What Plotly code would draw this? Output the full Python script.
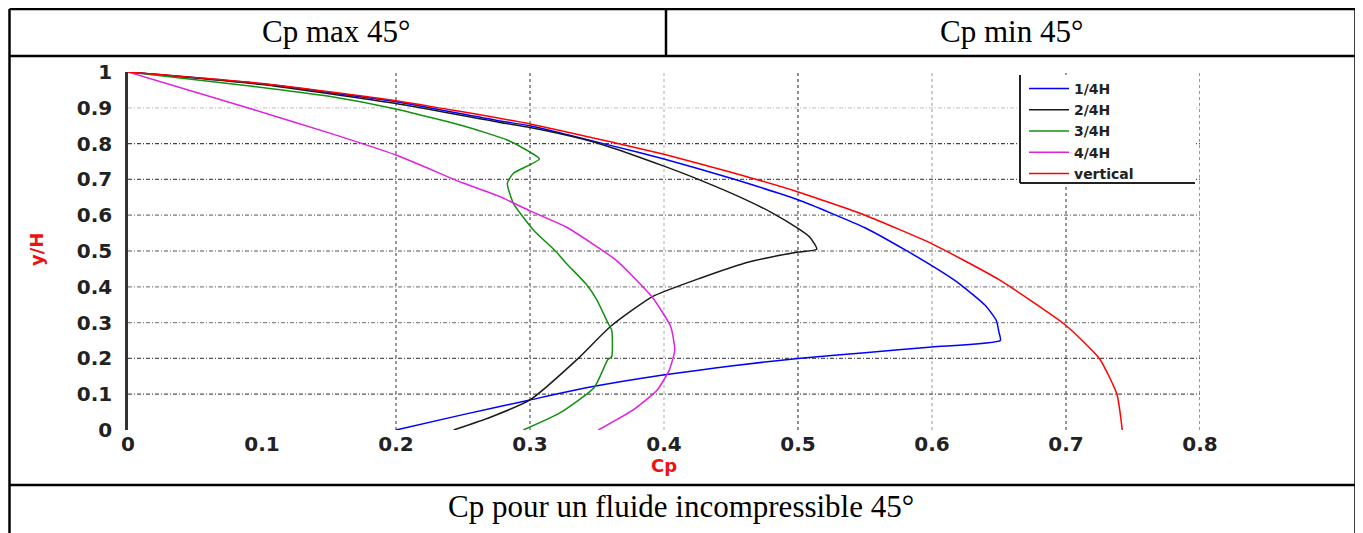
import plotly.graph_objects as go

# ---------------- data ----------------
series_names = ["1/4H", "2/4H", "3/4H", "4/4H", "vertical"]
series_colors = ["#0000ff", "#1a1a1a", "#119011", "#e020e0", "#ff0000"]

cp_q1 = [0, 0.1, 0.2, 0.2776, 0.3, 0.36, 0.4, 0.45, 0.5, 0.55, 0.58, 0.605, 0.621, 0.64, 0.648, 0.65, 0.651,
         0.6, 0.55, 0.5, 0.45, 0.426, 0.398, 0.345, 0.3, 0.25, 0.2]
y_q1 = [1, 0.967, 0.917, 0.863, 0.85, 0.795, 0.757, 0.703, 0.643, 0.565, 0.503, 0.447, 0.407, 0.347, 0.306, 0.273, 0.25,
        0.232, 0.216, 0.2, 0.179, 0.167, 0.153, 0.12, 0.084, 0.043, 0]

cp_q2 = [0, 0.1, 0.2, 0.2776, 0.3, 0.34, 0.36, 0.4, 0.427, 0.46, 0.48, 0.5, 0.509, 0.514,
         0.5, 0.464, 0.427, 0.391, 0.36, 0.336, 0.3, 0.27, 0.243]
y_q2 = [1, 0.965, 0.912, 0.859, 0.845, 0.812, 0.79, 0.737, 0.698, 0.645, 0.608, 0.563, 0.538, 0.505,
        0.497, 0.47, 0.424, 0.372, 0.289, 0.2, 0.084, 0.035, 0]

cp_q3 = [0, 0.091, 0.15, 0.198, 0.25, 0.283, 0.295, 0.307, 0.2876, 0.2831, 0.2876, 0.3025, 0.319, 0.327,
         0.342, 0.35, 0.358, 0.361, 0.361, 0.358, 0.348, 0.322, 0.295]
y_q3 = [1, 0.961, 0.932, 0.898, 0.85, 0.81, 0.787, 0.757, 0.717, 0.689, 0.633, 0.559, 0.5, 0.466,
        0.407, 0.363, 0.3, 0.279, 0.205, 0.196, 0.119, 0.047, 0]

cp_q4 = [0, 0.091, 0.15, 0.2, 0.25, 0.2776, 0.3, 0.327, 0.364, 0.391, 0.405, 0.408, 0.404, 0.395, 0.377, 0.351]
y_q4 = [1, 0.898, 0.83, 0.768, 0.69, 0.652, 0.612, 0.567, 0.475, 0.372, 0.289, 0.223, 0.168, 0.112, 0.056, 0]

cp_vert = [0, 0.1, 0.2, 0.3, 0.36, 0.4, 0.45, 0.5, 0.55, 0.6, 0.65, 0.7, 0.725, 0.738, 0.742]
y_vert = [1, 0.968, 0.92, 0.855, 0.805, 0.77, 0.72, 0.665, 0.6, 0.52, 0.42, 0.292, 0.199, 0.1, 0]

x_ticks = [0, 0.1, 0.2, 0.3, 0.4, 0.5, 0.6, 0.7, 0.8]
x_tick_labels = ["0", "0.1", "0.2", "0.3", "0.4", "0.5", "0.6", "0.7", "0.8"]
y_ticks = [0, 0.1, 0.2, 0.3, 0.4, 0.5, 0.6, 0.7, 0.8, 0.9, 1]
y_tick_labels = ["0", "0.1", "0.2", "0.3", "0.4", "0.5", "0.6", "0.7", "0.8", "0.9", "1"]

title_left = "Cp max 45°"
title_right = "Cp min 45°"
caption = "Cp pour un fluide incompressible 45°"
x_title = "Cp"
y_title = "y/H"

# ---------------- layout helpers ----------------
# the page adds an 8px body margin, so the figure is made 8px smaller and margins shifted
OFF = 8
W, H = 1363 - OFF, 533 - OFF
PL, PR, PT, PB = 128, 1200, 72, 430   # plot area in window pixels


def fx(px):
    return (px - PL) / (PR - PL)


def fy(py):
    return (PB - py) / (PB - PT)


fig = go.Figure()
xs = [cp_q1, cp_q2, cp_q3, cp_q4, cp_vert]
ys = [y_q1, y_q2, y_q3, y_q4, y_vert]
for name, col, cx, cy in zip(series_names, series_colors, xs, ys):
    fig.add_trace(go.Scatter(x=cx, y=cy, mode="lines", name=name,
                             line=dict(color=col, width=1.5, shape="spline", smoothing=0.5)))

shapes = []
vgrid_col = {0.1: "rgba(0,0,0,0)", 0.2: "#555", 0.3: "#555", 0.4: "#bbb",
             0.5: "#444", 0.6: "#aaa", 0.7: "#555", 0.8: "#555"}
for v in x_ticks[1:]:
    shapes.append(dict(type="line", xref="x", yref="paper", x0=v, x1=v, y0=0, y1=1.005,
                       line=dict(color=vgrid_col[v], width=1.2, dash="dot"), layer="below"))
hgrid_col = {0.1: "#555", 0.2: "#555", 0.3: "#888", 0.4: "#888", 0.5: "#555",
             0.6: "#777", 0.7: "#555", 0.8: "#444", 0.9: "#ccc"}
for v in y_ticks[1:-1]:
    shapes.append(dict(type="line", xref="paper", yref="y", x0=0, x1=1, y0=v, y1=v,
                       line=dict(color=hgrid_col[v], width=1.2, dash="4px,2px,1px,2px"), layer="below"))

# legend box: white, with left & bottom border only
shapes.append(dict(type="rect", xref="paper", yref="paper", x0=fx(1020), x1=fx(1195), y0=fy(183), y1=fy(75),
                   fillcolor="white", line=dict(width=0), layer="below"))
shapes.append(dict(type="line", xref="paper", yref="paper", x0=fx(1020), x1=fx(1020), y0=fy(183), y1=fy(75),
                   line=dict(color="#222", width=2)))
shapes.append(dict(type="line", xref="paper", yref="paper", x0=fx(1020), x1=fx(1195), y0=fy(183), y1=fy(183),
                   line=dict(color="#222", width=2)))

# table borders
tl = dict(color="black", width=2.5)
L, R, T, B = 9.5, 1355.5, 9, 533
for (x0, y0, x1, y1) in [(L, T, R, T), (L, T, L, B), (R, T, R, B), (666, T, 666, 56),
                         (L, 56, R, 56), (L, 485, R, 485)]:
    shapes.append(dict(type="line", xref="paper", yref="paper", x0=fx(x0), x1=fx(x1), y0=fy(y0), y1=fy(y1),
                       line=tl))

serif = dict(family="Liberation Serif, Times New Roman, serif", size=31, color="black")
sans_b = dict(family="DejaVu Sans", size=18, color="#ee1111", weight="bold")
annotations = [
    dict(text=title_left, x=fx(335.5), y=fy(31), xref="paper", yref="paper", showarrow=False, font=serif,
         xanchor="center", yanchor="middle"),
    dict(text=title_right, x=fx(1011), y=fy(31), xref="paper", yref="paper", showarrow=False, font=serif,
         xanchor="center", yanchor="middle"),
    dict(text=caption, x=fx(681), y=fy(506), xref="paper", yref="paper", showarrow=False, font=serif,
         xanchor="center", yanchor="middle"),
    dict(text=x_title, x=fx(664), y=fy(465), xref="paper", yref="paper", showarrow=False, font=sans_b,
         xanchor="center", yanchor="middle"),
    dict(text=y_title, x=fx(36), y=fy(250), xref="paper", yref="paper", showarrow=False, font=sans_b,
         xanchor="center", yanchor="middle", textangle=-90),
]

tickfont = dict(family="DejaVu Sans", size=20, color="#222", weight="bold")
fig.update_layout(
    width=W, height=H,
    margin=dict(l=PL - OFF, r=(1363 - OFF) - (PR - OFF), t=PT - OFF, b=(533 - OFF) - (PB - OFF), pad=0),
    paper_bgcolor="white", plot_bgcolor="white",
    showlegend=True,
    legend=dict(x=fx(1024), y=fy(73), xanchor="left", yanchor="top", bgcolor="rgba(0,0,0,0)",
                borderwidth=0, font=dict(family="DejaVu Sans", size=14, color="#222", weight="bold"),
                tracegroupgap=0, itemwidth=40),
    xaxis=dict(range=[0, 0.8], tickvals=x_ticks, ticktext=x_tick_labels, showgrid=False, zeroline=False,
               showline=False, ticks="", tickfont=tickfont, ticklabelstandoff=0),
    yaxis=dict(range=[0, 1], tickvals=y_ticks, ticktext=y_tick_labels, showgrid=False, zeroline=False,
               showline=True, linecolor="#333", linewidth=2.5, ticks="", tickfont=tickfont,
               ticklabelstandoff=9),
    shapes=shapes,
    annotations=annotations,
)

fig.write_html("out.html")
